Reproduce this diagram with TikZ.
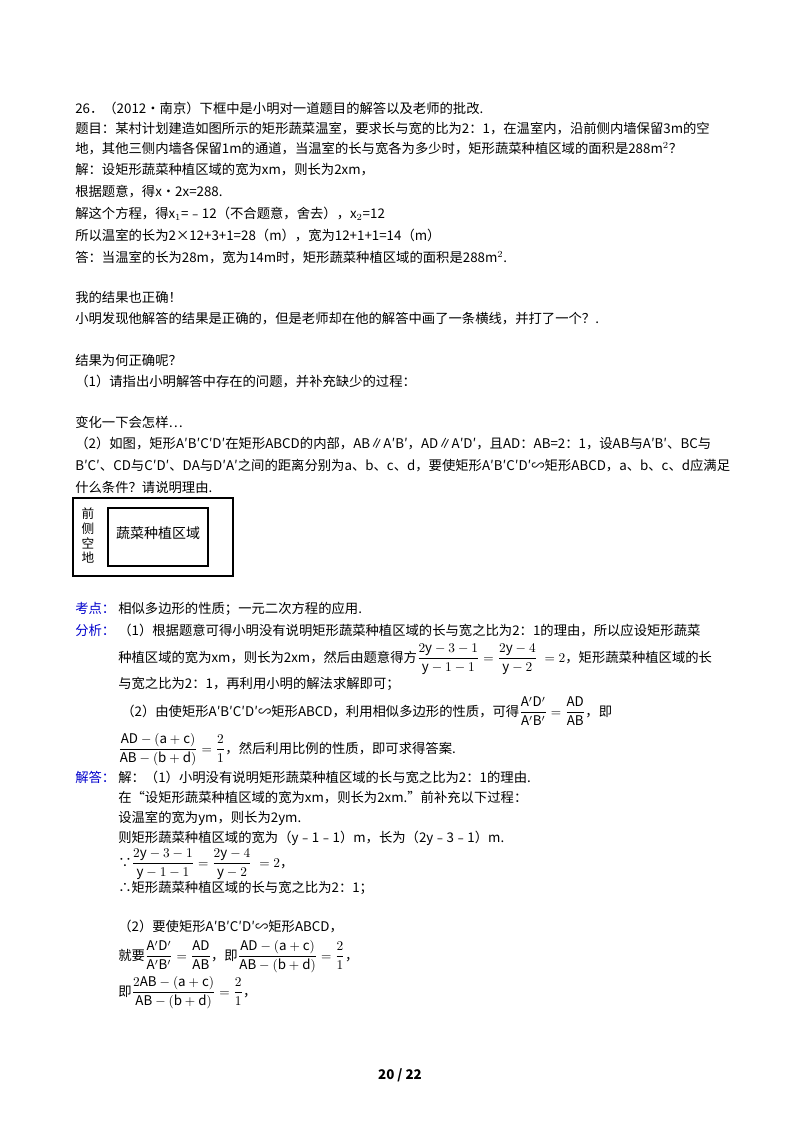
\documentclass[tikz,border=0pt]{standalone}
\usepackage{amsmath}
\usepackage{fontspec}
\setmainfont{Noto Sans CJK SC}
\begin{document}
\begin{tikzpicture}[x=0.75pt,y=-0.75pt,
  t/.style={anchor=base west,inner sep=0pt,font=\fontsize{10}{12}\selectfont},
  lab/.style={t,text=blue!80!black}]
\useasboundingbox (0,0) rectangle (800,1132);
\node[t] (l1) at (75,113) {26．（2012•南京）下框中是小明对一道题目的解答以及老师的批改.};
\node[t] (l2) at (75,133) {题目：某村计划建造如图所示的矩形蔬菜温室，要求长与宽的比为2：1，在温室内，沿前侧内墙保留3m的空};
\node[t] (l3) at (75,153) {地，其他三侧内墙各保留1m的通道，当温室的长与宽各为多少时，矩形蔬菜种植区域的面积是288m$^2$？};
\node[t] (l4) at (75,174) {解：设矩形蔬菜种植区域的宽为xm，则长为2xm，};
\node[t] (l5) at (75,196) {根据题意，得x•2x=288.};
\node[t] (l6) at (75,218) {解这个方程，得x$_1$=﹣12（不合题意，舍去），x$_2$=12};
\node[t] (l7) at (75,240) {所以温室的长为2×12+3+1=28（m），宽为12+1+1=14（m）};
\node[t] (l8) at (75,262) {答：当温室的长为28m，宽为14m时，矩形蔬菜种植区域的面积是288m$^2$.};
\node[t] (l9) at (75,302) {我的结果也正确！};
\node[t] (l10) at (75,323) {小明发现他解答的结果是正确的，但是老师却在他的解答中画了一条横线，并打了一个？.};
\node[t] (l11) at (75,365) {结果为何正确呢？};
\node[t] (l12) at (75,386) {（1）请指出小明解答中存在的问题，并补充缺少的过程：};
\node[t] (l13) at (75,427) {变化一下会怎样…};
\node[t] (l14) at (75,448) {（2）如图，矩形A′B′C′D′在矩形ABCD的内部，AB∥A′B′，AD∥A′D′，且AD：AB=2：1，设AB与A′B′、BC与};
\node[t] (l15) at (75,470) {B′C′、CD与C′D′、DA与D′A′之间的距离分别为a、b、c、d，要使矩形A′B′C′D′∽矩形ABCD，a、b、c、d应满足};
\node[t] (l16) at (75,492) {什么条件？请说明理由.};
\draw[line width=0.8pt] (73,498) rectangle (233,576);
\draw[line width=0.8pt] (108,508) rectangle (208,566);
\node[font=\fontsize{9.5}{11}\selectfont,align=center,inner sep=0pt] (sid) at (88,536) {前\\侧\\空\\地};
\node[font=\fontsize{10.5}{12}\selectfont,inner sep=0pt] (veg) at (158,533) {蔬菜种植区域};
\node[lab] (k1) at (75,613) {考点：};
\node[t] (k2) at (118,613) {相似多边形的性质；一元二次方程的应用.};
\node[lab] (f1) at (75,635) {分析：};
\node[t] (f2) at (118,635) {（1）根据题意可得小明没有说明矩形蔬菜种植区域的长与宽之比为2：1的理由，所以应设矩形蔬菜};
\node[t] (f3) at (118,662) {种植区域的宽为xm，则长为2xm，然后由题意得方$\dfrac{2\mathrm{y}-3-1}{\mathrm{y}-1-1}=\dfrac{2\mathrm{y}-4}{\mathrm{y}-2}\;=2$，矩形蔬菜种植区域的长};
\node[t] (f4) at (118,688) {与宽之比为2：1，再利用小明的解法求解即可；};
\node[t] (f5) at (121,716) {（2）由使矩形A′B′C′D′∽矩形ABCD，利用相似多边形的性质，可得$\dfrac{\mathrm{A'D'}}{\mathrm{A'B'}}=\dfrac{\mathrm{AD}}{\mathrm{AB}}$，即};
\node[t] (f6) at (118,753) {$\dfrac{\mathrm{AD}-(\mathrm{a}+\mathrm{c})}{\mathrm{AB}-(\mathrm{b}+\mathrm{d})}=\dfrac{2}{1}$，然后利用比例的性质，即可求得答案.};
\node[lab] (j1) at (75,782) {解答：};
\node[t] (j2) at (118,782) {解：（1）小明没有说明矩形蔬菜种植区域的长与宽之比为2：1的理由.};
\node[t] (j3) at (118,802) {在“设矩形蔬菜种植区域的宽为xm，则长为2xm.”前补充以下过程：};
\node[t] (j4) at (118,822) {设温室的宽为ym，则长为2ym.};
\node[t] (j5) at (118,842) {则矩形蔬菜种植区域的宽为（y﹣1﹣1）m，长为（2y﹣3﹣1）m.};
\node[t] (j6) at (118,867) {∵$\dfrac{2\mathrm{y}-3-1}{\mathrm{y}-1-1}=\dfrac{2\mathrm{y}-4}{\mathrm{y}-2}\;=2$，};
\node[t] (j7) at (118,892) {∴矩形蔬菜种植区域的长与宽之比为2：1；};
\node[t] (j8) at (118,931) {（2）要使矩形A′B′C′D′∽矩形ABCD，};
\node[t] (j9) at (118,960) {就要$\dfrac{\mathrm{A'D'}}{\mathrm{A'B'}}=\dfrac{\mathrm{AD}}{\mathrm{AB}}$，即$\dfrac{\mathrm{AD}-(\mathrm{a}+\mathrm{c})}{\mathrm{AB}-(\mathrm{b}+\mathrm{d})}=\dfrac{2}{1}$，};
\node[t] (j10) at (118,996) {即$\dfrac{2\mathrm{AB}-(\mathrm{a}+\mathrm{c})}{\mathrm{AB}-(\mathrm{b}+\mathrm{d})}=\dfrac{2}{1}$，};
\node[font=\bfseries\fontsize{10}{12}\selectfont,inner sep=0pt] (pg) at (400,1075) {20 / 22};
\end{tikzpicture}
\end{document}
